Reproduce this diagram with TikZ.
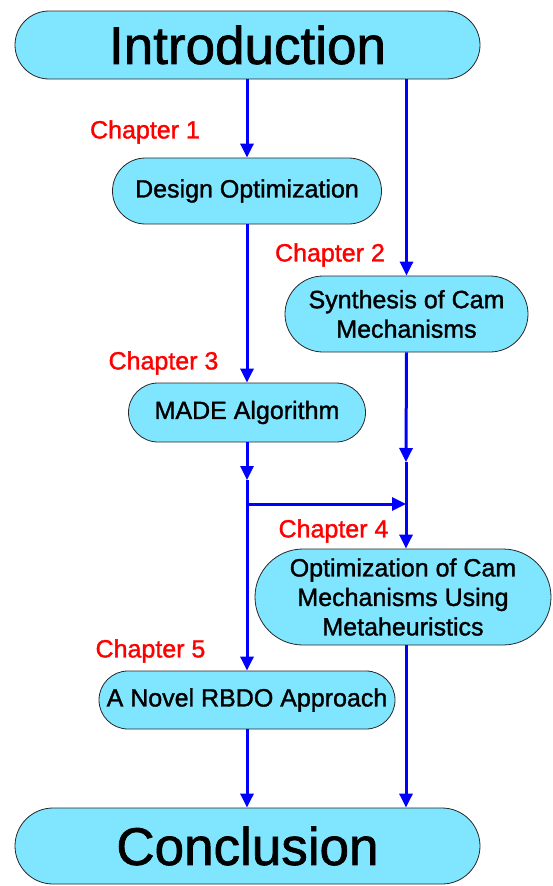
\documentclass[tikz,border=0pt]{standalone}
\usepackage{fontspec}
\setmainfont{Liberation Sans}
\newfontfamily\heavyfont[FakeBold=1.3]{Liberation Sans}
\usetikzlibrary{shapes.misc,arrows.meta}
\definecolor{boxfill}{HTML}{80E6FF}
\definecolor{flowblue}{HTML}{0000FF}
\definecolor{chapred}{HTML}{FF0000}
\tikzset{
  stage/.style={rounded rectangle, draw=black!85, line width=0.8pt, fill=boxfill,
    align=center, inner sep=2pt, font=\heavyfont\fontsize{25}{29.5}\selectfont},
  bigstage/.style={stage, font=\heavyfont\fontsize{53}{60}\selectfont},
  chap/.style={text=chapred, inner sep=0pt, font=\heavyfont\fontsize{25}{29}\selectfont},
  flow/.style={draw=flowblue, line width=3pt,
    -{Triangle[length=14pt,width=13pt]}},
}
\begin{document}
\begin{tikzpicture}[x=1pt,y=-1pt]
\useasboundingbox (0,0) rectangle (552,886);

% stages of the thesis
\node[bigstage, minimum width=469pt, minimum height=68pt] (intro) at (247.5,45) {Introduction};
\node[stage, minimum width=273pt, minimum height=66pt] (design) at (247,191) {Design Optimization};
\node[stage, minimum width=247pt, minimum height=76pt] (synth) at (406.5,314) {Synthesis of Cam\\Mechanisms};
\node[stage, minimum width=241pt, minimum height=59pt] (made) at (247,412.5) {MADE Algorithm};
\node[stage, minimum width=300pt, minimum height=96pt] (opt) at (403,597) {Optimization of Cam\\Mechanisms Using\\Metaheuristics};
\node[stage, minimum width=300pt, minimum height=58pt] (rbdo) at (247,700) {A Novel RBDO Approach};
\node[bigstage, minimum width=469pt, minimum height=76pt] (concl) at (247.5,846) {Conclusion};

% chapter labels
\node[chap] (c1) at (145,132) {Chapter 1};
\node[chap] (c2) at (330,255) {Chapter 2};
\node[chap] (c3) at (163.5,363) {Chapter 3};
\node[chap] (c4) at (333.5,531) {Chapter 4};
\node[chap] (c5) at (150.5,651) {Chapter 5};

% junction points on the two flow lines
\coordinate (ja) at (247,480);
\coordinate (jb) at (247,504);
\coordinate (jc) at (406,462);
\coordinate (jd) at (406,504);

% left flow line
\draw[flow] (design.north |- intro.south) -- (design.north);
\draw[flow] (design.south) -- (made.north);
\draw[flow] (made.south) -- (ja);
\draw[flow] (ja) -- (rbdo.north);
\draw[flow] (rbdo.south) -- (rbdo.south |- concl.north);

% right flow line
\draw[flow] (synth.north |- intro.south) -- (synth.north);
\draw[flow] (synth.south) -- (jc);
\draw[flow] (jc) -- (jc |- opt.north);
\draw[flow] (jc |- opt.south) -- (jc |- concl.north);

% branch from the MADE line to the cam line
\draw[flow] (jb) -- (jd);
\end{tikzpicture}
\end{document}
